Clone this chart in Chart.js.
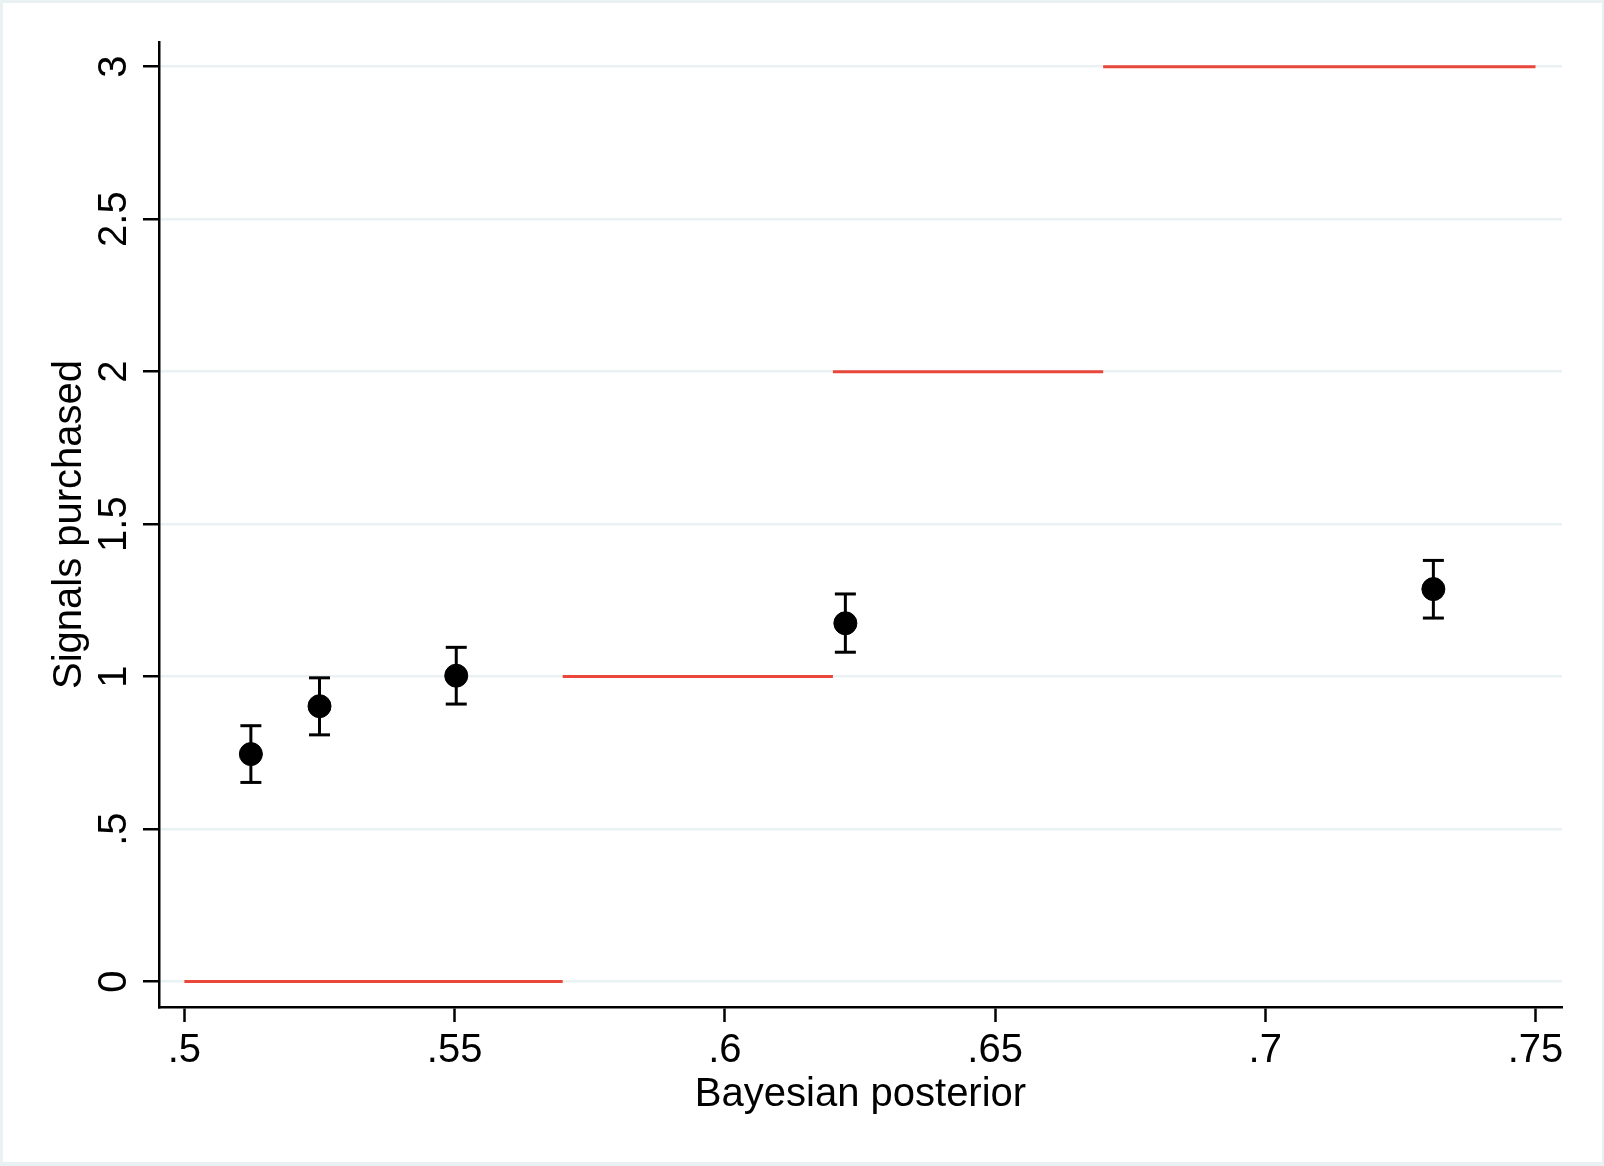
<!DOCTYPE html>
<html>
<head>
<meta charset="utf-8">
<script src="https://cdn.jsdelivr.net/npm/chart.js@4"></script>
<style>
  body { margin: 0; background: #fff; }
  canvas { display: block; }
</style>
</head>
<body>
<canvas id="chart" width="1604" height="1166" style="width:1604px;height:1166px"></canvas>
<script>
// binned means with confidence intervals
var posterior = [0.5123, 0.525, 0.5503, 0.6223, 0.7311];
var signals = [0.746, 0.903, 1.003, 1.175, 1.287];
var ciLow = [0.653, 0.809, 0.910, 1.080, 1.192];
var ciHigh = [0.839, 0.996, 1.096, 1.271, 1.381];

// optimal (step) number of signals
var stepFrom = [0.5, 0.57, 0.62, 0.67];
var stepTo = [0.57, 0.62, 0.67, 0.75];
var stepLevel = [0, 1, 2, 3];

var xTicks = [0.5, 0.55, 0.6, 0.65, 0.7, 0.75];
var yTicks = [0, 0.5, 1, 1.5, 2, 2.5, 3];

var FONT = "'Liberation Sans', Arial, Helvetica, sans-serif";

function stataLabel(v) {
    var s = String(Math.round(v * 1000) / 1000);
    return s.replace(/^0\./, '.');
}

var datasets = [];

// dots first so they sit on top
datasets.push({
    type: 'scatter',
    data: posterior.map(function (x, i) { return {x: x, y: signals[i]}; }),
    backgroundColor: '#000',
    borderColor: '#000',
    pointRadius: 11.5,
    pointHoverRadius: 11.5
});

for (var i = 0; i < posterior.length; i++) {
    datasets.push({
        type: 'line',
        data: [{x: posterior[i], y: ciLow[i]}, {x: posterior[i], y: ciHigh[i]}],
        borderColor: '#000',
        borderWidth: 3,
        pointStyle: 'line',
        pointRadius: 10.5,
        pointHoverRadius: 10.5,
        pointBorderWidth: 3,
        pointBorderColor: '#000',
        fill: false
    });
}

for (var j = 0; j < stepLevel.length; j++) {
    datasets.push({
        type: 'line',
        data: [{x: stepFrom[j], y: stepLevel[j]}, {x: stepTo[j], y: stepLevel[j]}],
        borderColor: '#e9473a',
        borderWidth: 3,
        pointRadius: 0,
        fill: false
    });
}

var framePlugin = {
    id: 'frame',
    beforeDraw: function (chart) {
        var c = chart.ctx;
        c.save();
        c.fillStyle = '#e9f1f3';
        c.fillRect(0, 0, chart.width, chart.height);
        c.fillStyle = '#fff';
        c.fillRect(3, 3, chart.width - 5, chart.height - 7);
        c.restore();
    }
};

var chart = new Chart(document.getElementById('chart').getContext('2d'), {
    type: 'scatter',
    data: {datasets: datasets},
    plugins: [framePlugin],
    options: {
        responsive: false,
        animation: false,
        events: [],
        layout: {padding: {left: 0, right: 42, top: 42, bottom: 0}},
        plugins: {legend: {display: false}, tooltip: {enabled: false}},
        scales: {
            x: {
                type: 'linear',
                position: 'bottom',
                min: 0.4953,
                max: 0.7549,
                afterBuildTicks: function (scale) {
                    scale.ticks = xTicks.map(function (v) { return {value: v}; });
                },
                afterFit: function (scale) { scale.height = 159; },
                ticks: {
                    color: '#000',
                    font: {family: FONT, size: 40},
                    padding: 5,
                    maxRotation: 0,
                    autoSkip: false,
                    callback: function (v) { return stataLabel(v); }
                },
                grid: {
                    drawOnChartArea: false,
                    tickLength: 15,
                    tickColor: '#000',
                    tickWidth: 2.5
                },
                border: {display: true, color: '#000', width: 2.5},
                title: {
                    display: true,
                    text: 'Bayesian posterior',
                    color: '#000',
                    font: {family: FONT, size: 40},
                    padding: {top: 0, bottom: 47}
                }
            },
            y: {
                type: 'linear',
                position: 'left',
                min: -0.0834,
                max: 3.081,
                afterBuildTicks: function (scale) {
                    scale.ticks = yTicks.map(function (v) { return {value: v}; });
                },
                afterFit: function (scale) { scale.width = 159; },
                ticks: {
                    color: '#000',
                    font: {family: FONT, size: 40},
                    padding: 0,
                    minRotation: 90,
                    maxRotation: 90,
                    crossAlign: 'center',
                    autoSkip: false,
                    callback: function (v) { return stataLabel(v); }
                },
                grid: {
                    color: '#e9f1f3',
                    lineWidth: 2.5,
                    tickLength: 16,
                    tickColor: '#000',
                    tickWidth: 2.5
                },
                border: {display: true, color: '#000', width: 2.5},
                title: {
                    display: true,
                    text: 'Signals purchased',
                    color: '#000',
                    font: {family: FONT, size: 40},
                    padding: {top: 46, bottom: 0}
                }
            }
        }
    }
});
</script>
</body>
</html>
